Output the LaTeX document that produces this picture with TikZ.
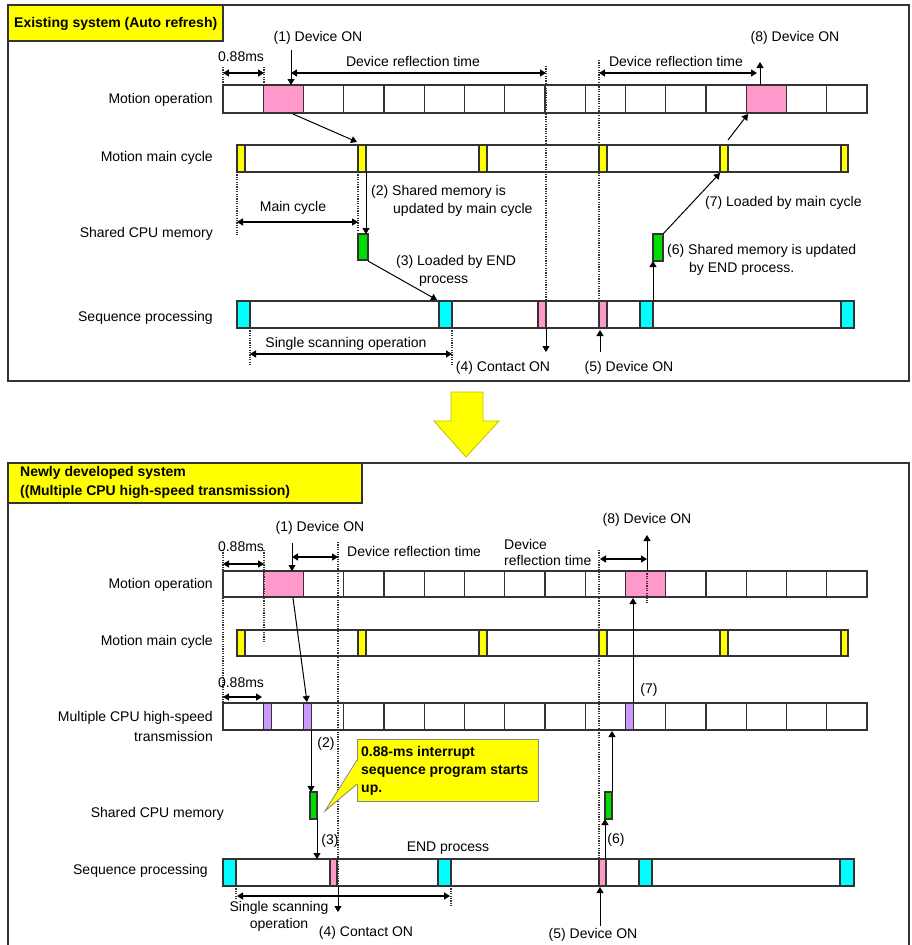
\documentclass[tikz,border=0pt]{standalone}
\usepackage{fontspec}
\setmainfont{Liberation Sans}
\usetikzlibrary{arrows.meta}
\definecolor{pinkc}{HTML}{FF99CC}
\definecolor{yel}{HTML}{FFFF00}
\definecolor{cyanc}{HTML}{00FFFF}
\definecolor{greenc}{HTML}{00DD00}
\definecolor{purp}{HTML}{CC99FF}
\definecolor{edge}{HTML}{333333}
\begin{document}
\begin{tikzpicture}[x=1pt,y=-1pt,
  box/.style={draw=edge,line width=1.2pt},
  dotl/.style={draw=edge,line width=1.3pt,dash pattern=on 1.2pt off 1.2pt},
  arr/.style={draw=black,line width=1pt,-{Triangle[length=6pt,width=7pt]}},
  dimarr/.style={draw=black,line width=1.3pt,{Triangle[length=6pt,width=7pt]}-{Triangle[length=6pt,width=7pt]}},
  lbl/.style={inner sep=0pt,font=\fontsize{14}{16}\selectfont,text height=10pt,text depth=0.5pt},
  blbl/.style={inner sep=0pt,font=\fontsize{14}{16}\selectfont\bfseries,text height=10pt,text depth=0.5pt},
  frame/.style={draw=edge,line width=1.5pt},
]
\useasboundingbox (0,0) rectangle (912,945);
\fill[white] (0,0) rectangle (912,945);

%%%%%%%%%%%%%%%% TOP PANEL
\draw[frame] (8,5) rectangle (909,381);
\draw[frame,fill=yel] (8,5) rectangle (223,41);
\node[blbl,anchor=west] (t1) at (14,23) {Existing system (Auto refresh)};

\node[lbl,anchor=east] (lmo1) at (213,99) {Motion operation};
\node[lbl,anchor=east] (lmc1) at (213,157) {Motion main cycle};
\node[lbl,anchor=east] (lsm1) at (213,233) {Shared CPU memory};
\node[lbl,anchor=east] (lsp1) at (213,317) {Sequence processing};

% motion operation cells
\fill[pinkc] (263.25,85) rectangle (303.5,113);
\fill[pinkc] (746.25,85) rectangle (786.5,113);
\foreach \i in {0,...,15} {\draw[box] ({223+\i*40.25},85) rectangle ({223+(\i+1)*40.25},113);}

% motion main cycle
\draw[box] (237,145) rectangle (848,172);
\foreach \x in {237,358,479,599,720} {\draw[box,fill=yel] (\x,145) rectangle (\x+8,172);}
\draw[box,fill=yel] (841,145) rectangle (848,172);

% sequence processing
\draw[box] (237,301) rectangle (854,328);
\foreach \x in {237,439,640} {\draw[box,fill=cyanc] (\x,301) rectangle (\x+13,328);}
\draw[box,fill=cyanc] (841,301) rectangle (854,328);
\foreach \x in {538,599} {\draw[box,fill=pinkc] (\x,301) rectangle (\x+8,328);}

% shared memory
\draw[box,fill=greenc] (358,234) rectangle (368,260);
\draw[box,fill=greenc] (653,234) rectangle (663,261);

% dotted lines
\draw[dotl] (223,67) -- (223,113);
\draw[dotl] (264,67) -- (264,85);
\draw[dotl] (546,66) -- (546,301);
\draw[dotl] (599,60) -- (599,301);
\draw[dotl] (237,172) -- (237,235);
\draw[dotl] (358,172) -- (358,230);
\draw[dotl] (250,328) -- (250,366);
\draw[dotl] (452,328) -- (452,366);

% dimensions
\coordinate (d1a) at (223,73); \coordinate (d1b) at (264,73);
\draw[dimarr] (d1a) -- (d1b);
\node[lbl] (l088a) at (241,57) {0.88ms};
\coordinate (d2a) at (291,73); \coordinate (d2b) at (546,73);
\draw[dimarr] (d2a) -- (d2b);
\node[lbl] (ldr1) at (413,62) {Device reflection time};
\coordinate (d3a) at (599,73); \coordinate (d3b) at (757,73);
\draw[dimarr] (d3a) -- (d3b);
\node[lbl] (ldr2) at (676,62) {Device reflection time};
\coordinate (d4a) at (237,222); \coordinate (d4b) at (358,222);
\draw[dimarr] (d4a) -- (d4b);
\node[lbl] (lmc) at (293,207) {Main cycle};
\coordinate (d5a) at (250,354); \coordinate (d5b) at (452,354);
\draw[dimarr] (d5a) -- (d5b);
\node[lbl] (lss) at (346,343) {Single scanning operation};

% arrows
\node[lbl] (n1) at (318,37) {(1) Device ON};
\coordinate (a1s) at (291,50); \coordinate (a1e) at (291,85);
\draw[arr] (a1s) -- (a1e);
\node[lbl] (n8) at (795,37) {(8) Device ON};
\coordinate (a8s) at (760,85); \coordinate (a8e) at (760,62);
\draw[arr] (a8s) -- (a8e);
\coordinate (p1) at (293,114); \coordinate (y2) at (357,142);
\draw[arr] (p1) -- (y2);
\coordinate (a2s) at (366,172); \coordinate (a2e) at (366,234);
\draw[arr] (a2s) -- (a2e);
\node[lbl,anchor=west] (n2a) at (371,191) {(2) Shared memory is};
\node[lbl,anchor=west] (n2b) at (393,209) {updated by main cycle};
\coordinate (a3s) at (368,261); \coordinate (a3e) at (437,300);
\draw[arr] (a3s) -- (a3e);
\node[lbl,anchor=west] (n3a) at (396,261) {(3) Loaded by END};
\node[lbl,anchor=west] (n3b) at (419,279) {process};
\coordinate (a4s) at (546,328); \coordinate (a4e) at (546,352);
\draw[arr] (a4s) -- (a4e);
\node[lbl] (n4) at (503,367) {(4) Contact ON};
\coordinate (a5s) at (600,352); \coordinate (a5e) at (600,330);
\draw[arr] (a5s) -- (a5e);
\node[lbl] (n5) at (629,367) {(5) Device ON};
\coordinate (a6s) at (653,301); \coordinate (a6e) at (653,261);
\draw[arr] (a6s) -- (a6e);
\node[lbl,anchor=west] (n6a) at (667,250) {(6) Shared memory is updated};
\node[lbl,anchor=west] (n6b) at (689,268) {by END process.};
\coordinate (a7s) at (663,234); \coordinate (a7e) at (720,173);
\draw[arr] (a7s) -- (a7e);
\node[lbl,anchor=west] (n7) at (705,202) {(7) Loaded by main cycle};
\coordinate (a7bs) at (728,140); \coordinate (a7be) at (748,114);
\draw[arr] (a7bs) -- (a7be);

%%%%%%%%%%%%%%%% BIG ARROW
\draw[fill=yel,draw=yel!75!black,line width=0.8pt] (451,392) -- (483,392) -- (483,421) -- (499,421) -- (466,457) -- (434,421) -- (451,421) -- cycle;

%%%%%%%%%%%%%%%% BOTTOM PANEL
\draw[frame] (8,950) -- (8,463) -- (909,463) -- (909,950);
\draw[frame,fill=yel] (8,463) rectangle (362,503);
\node[blbl,anchor=west] (t2a) at (20,472) {Newly developed system};
\node[blbl,anchor=west] (t2b) at (20,491) {((Multiple CPU high-speed transmission)};

\node[lbl,anchor=east] (lmo2) at (213,584) {Motion operation};
\node[lbl,anchor=east] (lmc2) at (213,641) {Motion main cycle};
\node[lbl,anchor=east] (lmx2) at (213,717) {Multiple CPU high-speed};
\node[lbl,anchor=east] (lmx3) at (213,737) {transmission};
\node[lbl,anchor=east] (lsm2) at (224,813) {Shared CPU memory};
\node[lbl,anchor=east] (lsp2) at (208,870) {Sequence processing};

% motion operation
\fill[pinkc] (263.25,571) rectangle (303.5,597);
\fill[pinkc] (625.5,571) rectangle (665.75,597);
\foreach \i in {0,...,15} {\draw[box] ({223+\i*40.25},571) rectangle ({223+(\i+1)*40.25},597);}

% main cycle
\draw[box] (237,630) rectangle (848,656);
\foreach \x in {237,358,479,599,720} {\draw[box,fill=yel] (\x,630) rectangle (\x+8,656);}
\draw[box,fill=yel] (841,630) rectangle (848,656);

% multiple CPU
\foreach \x in {263.25,303.5,625.5} {\fill[purp] (\x,703) rectangle (\x+8,730);}
\foreach \i in {0,...,15} {\draw[box] ({223+\i*40.25},703) rectangle ({223+(\i+1)*40.25},730);}
\foreach \x in {263.25,303.5,625.5} {\draw[box] (\x,703) rectangle (\x+8,730);}

% sequence processing
\draw[box] (223,859) rectangle (854,886);
\foreach \x in {223,438,639} {\draw[box,fill=cyanc] (\x,859) rectangle (\x+13,886);}
\draw[box,fill=cyanc] (840,859) rectangle (854,886);
\foreach \x in {330,599} {\draw[box,fill=pinkc] (\x,859) rectangle (\x+7,886);}

% shared memory
\draw[box,fill=greenc] (310,792) rectangle (317,819);
\draw[box,fill=greenc] (605,792) rectangle (612,819);

% dotted
\draw[dotl] (223,550) -- (223,730);
\draw[dotl] (264,550) -- (264,643);
\draw[dotl] (338,542) -- (338,886);
\draw[dotl] (599,550) -- (599,859);
\draw[dotl] (647,571) -- (647,603);
\draw[dotl] (236,886) -- (236,900);
\draw[dotl] (451,886) -- (451,907);

% dimensions
\coordinate (e1a) at (223,564); \coordinate (e1b) at (264,564);
\draw[dimarr] (e1a) -- (e1b);
\node[lbl] (m088a) at (241,547) {0.88ms};
\coordinate (e2a) at (292,557); \coordinate (e2b) at (338,557);
\draw[dimarr] (e2a) -- (e2b);
\node[lbl,anchor=west] (mdr1) at (347,552) {Device reflection time};
\coordinate (e3a) at (600,559); \coordinate (e3b) at (647,559);
\draw[dimarr] (e3a) -- (e3b);
\node[lbl,anchor=west] (mdr2a) at (504,545) {Device};
\node[lbl,anchor=west] (mdr2b) at (504,561) {reflection time};
\coordinate (e4a) at (223,697); \coordinate (e4b) at (262,697);
\draw[dimarr] (e4a) -- (e4b);
\node[lbl] (m088b) at (241,683) {0.88ms};
\coordinate (e5a) at (237,896); \coordinate (e5b) at (450,896);
\draw[dimarr] (e5a) -- (e5b);
\node[lbl] (mss1) at (279,907) {Single scanning};
\node[lbl] (mss2) at (279,924) {operation};

% arrows
\node[lbl] (m1) at (320,527) {(1) Device ON};
\coordinate (b1s) at (292,543); \coordinate (b1e) at (292,571);
\draw[arr] (b1s) -- (b1e);
\node[lbl] (m8) at (647,519) {(8) Device ON};
\coordinate (b8s) at (647,571); \coordinate (b8e) at (647,535);
\draw[arr] (b8s) -- (b8e);
\coordinate (q1) at (293,598); \coordinate (q2) at (307,702);
\draw[arr] (q1) -- (q2);
\coordinate (b2s) at (311,730); \coordinate (b2e) at (311,792);
\draw[arr] (b2s) -- (b2e);
\node[lbl] (m2) at (326,743) {(2)};
\coordinate (b3s) at (317,819); \coordinate (b3e) at (317,859);
\draw[arr] (b3s) -- (b3e);
\node[lbl] (m3) at (330,840) {(3)};
\coordinate (b4s) at (338,886); \coordinate (b4e) at (338,912);
\draw[arr] (b4s) -- (b4e);
\node[lbl] (m4) at (366,932) {(4) Contact ON};
\node[lbl] (m5) at (593,934) {(5) Device ON};
\coordinate (b5s) at (600,926); \coordinate (b5e) at (600,887);
\draw[arr] (b5s) -- (b5e);
\coordinate (b6s) at (605,859); \coordinate (b6e) at (605,819);
\draw[arr] (b6s) -- (b6e);
\node[lbl] (m6) at (616,839) {(6)};
\coordinate (b6bs) at (612,792); \coordinate (b6be) at (612,731);
\draw[arr] (b6bs) -- (b6be);
\coordinate (b7s) at (633,703); \coordinate (b7e) at (633,598);
\draw[arr] (b7s) -- (b7e);
\node[lbl] (m7) at (649,689) {(7)};
\node[lbl] (mend) at (448,847) {END process};

% callout
\draw[fill=yel,draw=edge!60,line width=0.8pt] (357,739) rectangle (538,801);
\fill[yel] (358,760) -- (325,811) -- (358,784) -- cycle;
\draw[draw=edge!60,line width=0.8pt] (357,760) -- (325,811) -- (357,784);
\node[blbl,anchor=west] (c1) at (361,752) {0.88-ms interrupt};
\node[blbl,anchor=west] (c2) at (361,770) {sequence program starts};
\node[blbl,anchor=west] (c3) at (361,788) {up.};
\end{tikzpicture}
\end{document}
